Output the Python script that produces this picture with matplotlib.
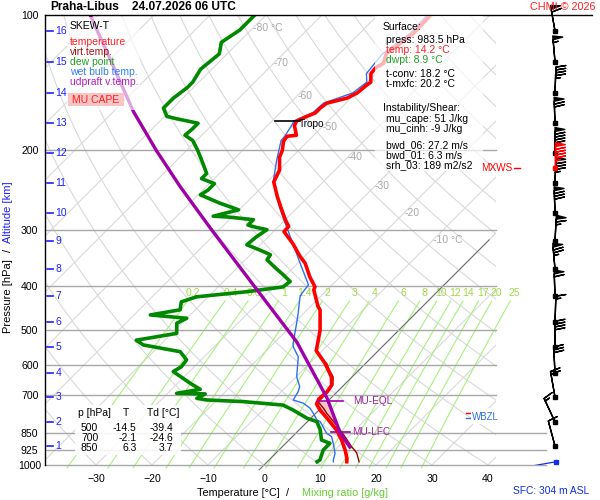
import numpy as np
import matplotlib.pyplot as plt
from matplotlib.patches import Rectangle
from matplotlib.ticker import NullLocator, NullFormatter

plt.rcParams['font.family'] = ['Liberation Sans', 'DejaVu Sans']

# --- sounding (p in hPa, T in deg C) ---
temp_p = [983.5, 966, 926, 880, 836, 787, 755, 732, 713, 688, 664, 637, 615, 594, 557,
          528, 501, 452, 445, 408, 402, 382, 356, 344, 322, 303, 295, 285, 271, 253,
          235, 221, 207, 200, 191, 186, 185, 176, 172, 168, 165, 161, 157, 153, 149,
          143, 141, 135, 131, 128, 122, 110, 100]
temp_t = [14.2, 13.6, 11.8, 9.4, 6.7, 2.9, 0.2, -1.5, -2.0, -1.8, -2.2, -3.7, -5.5, -7.3, -11.1,
          -12.6, -14.1, -17.7, -18.6, -22.4, -22.7, -25.4, -28.7, -30.8, -34.4, -38.1, -38.2, -40.0, -42.4, -45.6,
          -48.8, -49.9, -52.2, -52.9, -54.3, -54.6, -53.1, -55.2, -55.6, -54.6, -53.7, -53.7, -53.4, -50.7, -49.8,
          -49.5, -49.3, -50.8, -51.0, -50.4, -51.6, -50.4, -50.6]

tv_p = [983.5, 940, 911, 865, 815, 768, 748, 724, 713, 688, 664, 637, 615, 594]
tv_t = [16.4, 14.4, 12.4, 9.4, 5.8, 2.0, 0.5, -1.6, -1.6, -1.6, -2.0, -3.4, -5.3, -7.0]

dew_p = [983.5, 975, 926, 895, 880, 836, 801, 787, 755, 736, 723, 717, 711, 695, 693, 679, 658, 642,
         620, 605, 584, 560, 541, 528, 510, 484, 472, 464, 452, 434, 423, 412, 402, 391, 378, 366,
         350, 341, 333, 324, 311, 300, 296, 293, 285, 281, 280, 271, 262, 251, 245, 237, 231, 225,
         214, 200, 190, 185, 179, 174, 170, 168, 161, 153, 145, 141, 132, 122, 115, 108, 100]
dew_t = [8.9, 9.1, 7.9, 7.9, 5.8, 3.8, 1.7, -0.7, -4.6, -7.3, -15.0, -21.8, -23.9, -23.2, -28.4, -24.9, -27.8, -29.9,
         -32.9, -32.3, -32.6, -35.2, -43.0, -45.1, -39.1, -40.9, -40.0, -47.1, -42.7, -43.9, -42.1, -34.0, -28.4, -28.1, -30.5, -32.9,
         -36.1, -36.4, -39.1, -42.4, -42.1, -41.5, -44.1, -45.7, -45.7, -50.9, -53.5, -50.1, -54.6, -59.6, -59.1, -59.1, -62.3, -62.3,
         -64.7, -68.0, -70.7, -73.0, -72.8, -72.8, -77.5, -79.6, -81.7, -81.7, -81.1, -81.1, -82.0, -81.4, -83.1, -82.0, -82.0]

wb_p = [983.5, 975, 942, 895, 865, 850, 801, 794, 768, 748, 729, 717, 687, 670, 637, 575, 546, 537,
        484, 460, 423, 415, 398, 362, 322, 283, 267, 235, 210, 190, 186, 176, 172, 165, 157, 149,
        141, 135, 122, 110, 100]
wb_t = [11.8, 11.5, 10.6, 8.5, 7.0, 5.5, 2.3, 1.4, -0.4, -1.9, -4.0, -6.4, -7.0, -7.6, -9.9, -13.2, -15.9, -16.5,
        -19.5, -21.0, -23.6, -23.9, -24.2, -28.8, -34.4, -40.6, -43.3, -48.9, -52.2, -54.9, -55.0, -55.7, -56.1, -54.2, -54.0, -50.6,
        -50.0, -51.6, -52.3, -51.0, -51.2]

parcel_p = [912, 849, 710, 533, 419, 356, 297, 241, 200, 164, 128, 100]
parcel_t = [12.1, 7.9, -0.7, -16.1, -30.9, -40.9, -52.0, -64.6, -75.4, -86.4, -98.9, -111.4]

# levels
lfc_p, eql_p = 845, 721
tropo_p, tropo_t = 172, -55.6
wbzl_p, fzl_p = 786, 765

# altitude scale
alt_km = list(range(1, 17))
alt_p = [907, 802, 706, 624, 547, 481, 421, 367, 318, 275, 236, 203, 174, 149, 127, 108.5]

# winds at each km (direction deg, speed kt)
wind_dir = [345, 335, 350, 357, 0, 2, 358, 355, 3, 358, 2, 0, 358, 2, 355, 350]
wind_kt = [10, 15, 20, 30, 40, 15, 60, 75, 65, 80, 85, 90, 70, 45, 55, 60]
mxws_p, mxws_dir, mxws_kt = 219, 0, 95
sfc_p, sfc_dir = 983.5, 260

# table and surface info
tab_p = [500, 700, 850]
tab_t = [-14.5, -2.1, 6.3]
tab_td = [-39.4, -24.6, 3.7]

pres_levels = [1000, 925, 850, 700, 600, 500, 400, 300, 200, 100]
mix_ratios = [0.2, 0.4, 0.6, 1, 1.4, 2, 3, 4, 6, 8, 10, 12, 14, 17, 20, 25]
iso_labels = [(-80, 107, '-80 °C'), (-70, 128, '-70'), (-60, 151, '-60'), (-50, 177, '-50'),
              (-40, 207, '-40'), (-30, 240, '-30'), (-20, 275, '-20'), (-10, 316, '-10 °C')]

SKEW = 34.9  # deg C per unit of ln(1000/p)


def sk(t, p):
    return np.asarray(t, float) + SKEW * np.log(1000.0 / np.asarray(p, float))


def fx(x):
    return x / 600.0


def fy(y):
    return 1 - y / 500.0


fig = plt.figure(figsize=(6, 5), dpi=100)
ax = fig.add_axes([fx(45), fy(465), 451 / 600, 450 / 500])
ax.set_yscale('log')
ax.set_ylim(1000, 100)
ax.set_xlim(-39.11, 41.43)

pp = np.geomspace(1000, 100, 60)
# isotherms and dry adiabats
for t in range(-160, 60, 10):
    ax.plot(sk(t, [1000, 100]), [1000, 100], color='#d9d9d9', lw=0.8, zorder=1)
for th in range(-40, 260, 10):
    tt = (th + 273.15) * (pp / 1000.0) ** 0.2857 - 273.15
    ax.plot(sk(tt, pp), pp, color='#d9d9d9', lw=0.8, zorder=1)
# mixing ratio lines
pm = np.geomspace(1015, 432, 30)
for w in mix_ratios:
    e = w * pm / (622.0 + w)
    le = np.log(e / 6.112)
    ax.plot(sk(243.5 * le / (17.67 - le), pm), pm, color='#a8f080', lw=0.8, zorder=1.5, clip_on=False)
    e0 = w * 415 / (622.0 + w)
    l0 = np.log(e0 / 6.112)
    ax.text(sk(243.5 * l0 / (17.67 - l0), 415), 415, '%g' % w, color='#a0d848', fontsize=7.5,
            ha='center', va='center', zorder=1.6)
ax.plot(sk(0, [1025, 316]), [1025, 316], color='#707070', lw=0.8, zorder=1.7, clip_on=False)
for t, p, s in iso_labels:
    ax.text(sk(t, p), p, s, color='#a8a8a8', fontsize=7.5, ha='left', va='center', zorder=1.6)

# isobars
for p in pres_levels[:-1]:
    xr = 50.36 if p >= 850 else 41.43
    ax.plot([-39.11, xr], [p, p], color='#a8a8a8', lw=1, zorder=2, clip_on=False)
ax.plot([-39.11, 58.6], [100, 100], color='black', lw=1, zorder=8, clip_on=False)

# CAPE area
pc = np.geomspace(lfc_p, eql_p, 40)
xa = np.interp(np.log(pc), np.log(parcel_p[::-1]), sk(parcel_t, parcel_p)[::-1])
xb = np.interp(np.log(pc), np.log(temp_p[::-1]), sk(temp_t, temp_p)[::-1])
ax.fill_betweenx(pc, xb, xa, color='#f9c6c6', lw=0, zorder=3)

ax.plot(sk(wb_t, wb_p), wb_p, color='#2f6ff0', lw=1, zorder=4)
ax.plot(sk(tv_t, tv_p), tv_p, color='#a00000', lw=1, zorder=4.5)
ax.plot(sk(temp_t, temp_p), temp_p, color='#ff0000', lw=2.6, zorder=5)
ax.plot(sk(dew_t, dew_p), dew_p, color='#008800', lw=2.6, zorder=5)
ax.plot(sk(parcel_t, parcel_p), parcel_p, color='#a000a8', lw=2.4, zorder=5.5)

# markers of levels
xt = sk(tropo_t, tropo_p)
ax.plot([xt - 3.8, xt + 0.6], [tropo_p, tropo_p], color='black', lw=1.2, zorder=6)
ax.text(xt + 0.3, 175, 'Tropo', fontsize=7.2, va='center', ha='left', zorder=6)
for lev, name, a, b, off in [(eql_p, 'MU-EQL', 1.9, 2.7, 4.4), (lfc_p, 'MU-LFC', 1.6, 1.8, 2.2)]:
    xc = np.interp(np.log(lev), np.log(parcel_p[::-1]), sk(parcel_t, parcel_p)[::-1])
    ax.plot([xc - a, xc + b], [lev, lev], color='#a000a8', lw=1.2, zorder=6)
    ax.text(xc + off, lev, name, color='#a020a0', fontsize=7.2, va='center', ha='left', zorder=6)
ax.plot([36.07, 36.96], [fzl_p, fzl_p], color='red', lw=1, zorder=6, clip_on=False)
ax.plot([36.07, 36.96], [wbzl_p, wbzl_p], color='#3070e0', lw=1, zorder=6, clip_on=False)

# axes cosmetics
for s in ['top', 'right', 'bottom']:
    ax.spines[s].set_visible(False)
ax.spines['left'].set_linewidth(1)
ax.set_xticks(range(-30, 41, 10))
ax.set_yticks(pres_levels)
ax.set_yticklabels([str(p) for p in pres_levels])
ax.yaxis.set_minor_locator(NullLocator())
ax.yaxis.set_minor_formatter(NullFormatter())
ax.tick_params(axis='x', length=0, pad=6.5, labelsize=7.6)
ax.tick_params(axis='y', length=0, pad=11, labelsize=7.6)
for lab in ax.get_yticklabels():
    lab.set_ha('center')

# altitude ticks
ytr = ax.get_yaxis_transform()
for k, p in zip(alt_km, alt_p):
    ax.plot([0.0045, 0.0177], [p, p], color='#2020ff', lw=1.2, transform=ytr, zorder=7)
    ax.text(0.023, p, str(k), color='#2020ff', fontsize=7.5, va='center', ha='left', transform=ytr, zorder=7)

# wind profile
wax = fig.add_axes([fx(496), fy(465), 104 / 600, 450 / 500])
wax.set_yscale('log')
wax.set_ylim(1000, 100)
wax.set_xlim(0, 104)
wax.axis('off')
bsz = dict(spacing=0.11, height=0.38, width=0.15)
d = np.radians(wind_dir)
spd = np.array(wind_kt, float)
xw = np.full(len(alt_p), 59.0)
wax.barbs(xw, alt_p, -spd * np.sin(d), -spd * np.cos(d), length=6.1, sizes=bsz, lw=1,
          color='black', clip_on=False, zorder=3)
wax.plot(xw, alt_p, 's', ms=3, color='black', zorder=4)
dm = np.radians(mxws_dir)
wax.barbs([59], [mxws_p], [-mxws_kt * np.sin(dm)], [-mxws_kt * np.cos(dm)], length=6.1, sizes=bsz,
          lw=1, color='red', zorder=5)
wax.plot([59], [mxws_p], 's', ms=3, color='red', zorder=5)
wax.text(16, mxws_p, 'MXWS', color='red', fontsize=7.2, ha='right', va='center')
wax.plot([18, 24], [mxws_p, mxws_p], color='red', lw=1)
ds = np.radians(sfc_dir)
wax.quiver([60], [sfc_p], [np.sin(ds)], [np.cos(ds)], color='#1030f0', angles='uv', scale_units='dots',
           scale=1 / 26.0, width=0.012, headwidth=0, headlength=0, headaxislength=0, pivot='tail', zorder=5)
wax.plot([60], [sfc_p], 's', ms=3, color='#1030f0', zorder=6)

# boxes drawn over the curves
for (x0, y0, x1, y1, fc, a) in [(66.7, 16.7, 140, 110, 'white', 0.65),
                                (375, 15.5, 483, 171, 'white', 0.7),
                                (75, 405, 181, 455, 'white', 0.88),
                                (470.7, 408, 506.7, 424, 'white', 1.0),
                                (68.3, 93.3, 124, 106, '#f8c4c4', 1.0)]:
    fig.add_artist(Rectangle((fx(x0), fy(y1)), (x1 - x0) / 600, (y1 - y0) / 500, facecolor=fc,
                             edgecolor='none', alpha=a, transform=fig.transFigure))

fs = 7.5
legend_items = [(26, 'SKEW-T', 'black'), (42, 'temperature', '#ff2020'), (52, 'virt.temp.', '#a01010'),
                (62, 'dew point', '#20a020'), (72, 'wet bulb temp.', '#3080f0'),
                (82, 'udpraft v.temp.', '#b020c0')]
for y, s, c in legend_items:
    fig.text(fx(70), fy(y), s, color=c, fontsize=fs, va='center', ha='left')
fig.text(fx(96), fy(100), 'MU CAPE', color='#ff2020', fontsize=fs, va='center', ha='center')

info = [(27.3, 382.7, 'Surface:', 'black'),
        (40, 386, 'press: %.1f hPa' % 983.5, 'black'),
        (50, 386, 'temp: %.1f °C' % 14.2, '#ff2020'),
        (60, 386, 'dwpt: %.1f °C' % 8.9, '#20a020'),
        (74, 386, 't-conv: %.1f °C' % 18.2, 'black'),
        (84, 386, 't-mxfc: %.1f °C' % 20.2, 'black'),
        (108.3, 382.7, 'Instability/Shear:', 'black'),
        (119.3, 386, 'mu_cape: %d J/kg' % 51, 'black'),
        (129.3, 386, 'mu_cinh: %d J/kg' % -9, 'black'),
        (145, 386, 'bwd_06: %.1f m/s' % 27.2, 'black'),
        (155, 386, 'bwd_01: %.1f m/s' % 6.3, 'black'),
        (165, 386, 'srh_03: %d m2/s2' % 189, 'black')]
for y, x, s, c in info:
    fig.text(fx(x), fy(y), s, color=c, fontsize=fs, va='center', ha='left')

fig.text(fx(78.3), fy(413.3), 'p [hPa]', fontsize=fs, va='center', ha='left')
fig.text(fx(125.8), fy(413.3), 'T', fontsize=fs, va='center', ha='center')
fig.text(fx(146.7), fy(413.3), 'Td [°C]', fontsize=fs, va='center', ha='left')
for i, (p, t, td) in enumerate(zip(tab_p, tab_t, tab_td)):
    y = 428.3 + 10 * i
    fig.text(fx(98.3), fy(y), str(p), fontsize=fs, va='center', ha='right')
    fig.text(fx(136.5), fy(y), '%.1f' % t, fontsize=fs, va='center', ha='right')
    fig.text(fx(173.3), fy(y), '%.1f' % td, fontsize=fs, va='center', ha='right')

fig.text(fx(472), fy(417), 'WBZL', color='#3070e0', fontsize=7, va='center', ha='left')

# titles and axis labels
fig.text(fx(50.7), fy(7.3), 'Praha-Libus', fontsize=8.6, fontweight='bold', va='center', ha='left')
fig.text(fx(131.7), fy(7.3), '24.07.2026 06 UTC', fontsize=8.6, fontweight='bold', va='center', ha='left')
fig.text(fx(530), fy(6.7), 'CHMI © 2026', color='#ff2020', fontsize=7.8, va='center', ha='left')
fig.text(fx(512.7), fy(491), 'SFC: 304 m ASL', color='#1030e0', fontsize=7.4, va='center', ha='left')
fig.text(fx(196.7), fy(493.3), 'Temperature [°C]', fontsize=7.8, va='center', ha='left')
fig.text(fx(287), fy(493.3), '/', fontsize=7.8, va='center', ha='center')
fig.text(fx(301.7), fy(493.3), 'Mixing ratio [g/kg]', color='#66cc33', fontsize=7.8, va='center', ha='left')
fig.text(fx(8.3), fy(333), 'Pressure [hPa]', fontsize=8, rotation=90, va='bottom', ha='center')
fig.text(fx(8.3), fy(250), '/', fontsize=8, rotation=90, va='center', ha='center')
fig.text(fx(8.3), fy(243), 'Altitude [km]', color='#2020ff', fontsize=8, rotation=90, va='bottom', ha='center')

fig.savefig('out.png', dpi=100, facecolor='white')
